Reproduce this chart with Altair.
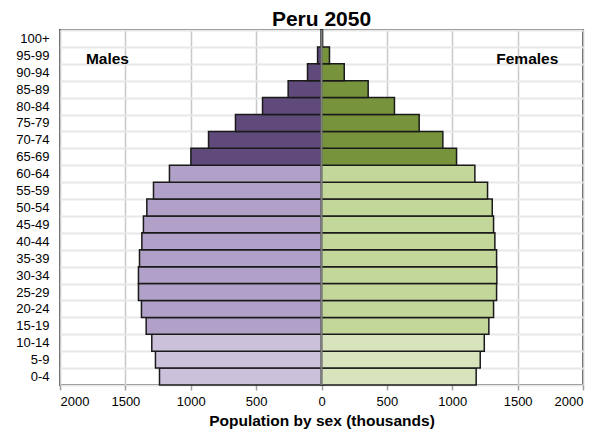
import altair as alt
import pandas as pd

ages = ["0-4", "5-9", "10-14", "15-19", "20-24", "25-29", "30-34", "35-39",
        "40-44", "45-49", "50-54", "55-59", "60-64", "65-69", "70-74", "75-79",
        "80-84", "85-89", "90-94", "95-99", "100+"]
males = [1239, 1270, 1298, 1341, 1377, 1400, 1400, 1392, 1374, 1362, 1336,
         1285, 1163, 999, 864, 658, 451, 255, 107, 30, 4]
females = [1183, 1214, 1245, 1280, 1316, 1339, 1341, 1339, 1326, 1316, 1306,
           1270, 1173, 1033, 928, 747, 558, 357, 174, 61, 8]

groups = ["M 0-14", "M 15-64", "M 65+", "F 0-14", "F 15-64", "F 65+"]
colors = ["#CCC1DA", "#B1A0C7", "#604A7B", "#D8E4BC", "#C4D79B", "#77933C"]

rows = []
for i, a in enumerate(ages):
    band = "0-14" if i < 3 else ("15-64" if i < 13 else "65+")
    rows.append({"age": a, "value": -males[i], "grp": "M " + band})
    rows.append({"age": a, "value": females[i], "grp": "F " + band})
df = pd.DataFrame(rows)

labels = pd.DataFrame({"label": ["Males", "Females"], "x": [-1637, 1574],
                       "age": ["95-99", "95-99"]})

FONT = "Liberation Sans"
ysort = ages[::-1]

y_enc = alt.Y("age:N", sort=ysort,
              scale=alt.Scale(paddingInner=0, paddingOuter=0),
              axis=alt.Axis(title=None, ticks=False, domain=False, grid=True,
                            tickBand="extent", gridColor="#e8e8e8", gridWidth=2,
                            labelFont=FONT, labelFontSize=13, labelColor="#000",
                            labelPadding=11))
x_scale = alt.Scale(domain=[-2000, 2000], nice=False)

bars = alt.Chart(df).mark_bar(stroke="#1a1a1a", strokeWidth=1.5).encode(
    y=y_enc,
    x=alt.X("value:Q", scale=x_scale,
            axis=alt.Axis(values=list(range(-2000, 2001, 500)),
                          labelExpr="abs(datum.value)",
                          title="Population by sex (thousands)",
                          titleFont=FONT, titleFontSize=15.5, titleFontWeight="bold",
                          titleColor="#000", titlePadding=5,
                          labelFont=FONT, labelFontSize=13, labelColor="#000",
                          labelPadding=5, tickSize=5, tickColor="#a0a0a0",
                          tickWidth=1.5, domain=False, grid=True,
                          gridColor="#c8c8c8", gridWidth=1.5)),
    color=alt.Color("grp:N", scale=alt.Scale(domain=groups, range=colors),
                    legend=None),
)

center = alt.Chart(pd.DataFrame({"x": [0]})).mark_rule(
    color="#808080", strokeWidth=2).encode(x=alt.X("x:Q", scale=x_scale))

txt = alt.Chart(labels).mark_text(font=FONT, fontSize=15.5, fontWeight="bold",
                                  color="#000", baseline="alphabetic",
                                  dy=8.5).encode(
    x=alt.X("x:Q", scale=x_scale),
    y=alt.Y("age:N", sort=ysort),
    text="label:N",
)

chart = alt.layer(bars, center, txt).properties(
    width=523, height=355,
    title=alt.TitleParams("Peru 2050", font=FONT, fontSize=21, fontWeight="bold",
                          color="#000", anchor="middle", offset=0, dy=6),
    autosize=alt.AutoSizeParams(type="none"),
    padding={"left": 52, "top": 22, "right": 14, "bottom": 47},
).configure_view(stroke="#595959", strokeWidth=2)

chart.save("out.html", embed_options={"renderer": "svg", "actions": False})
